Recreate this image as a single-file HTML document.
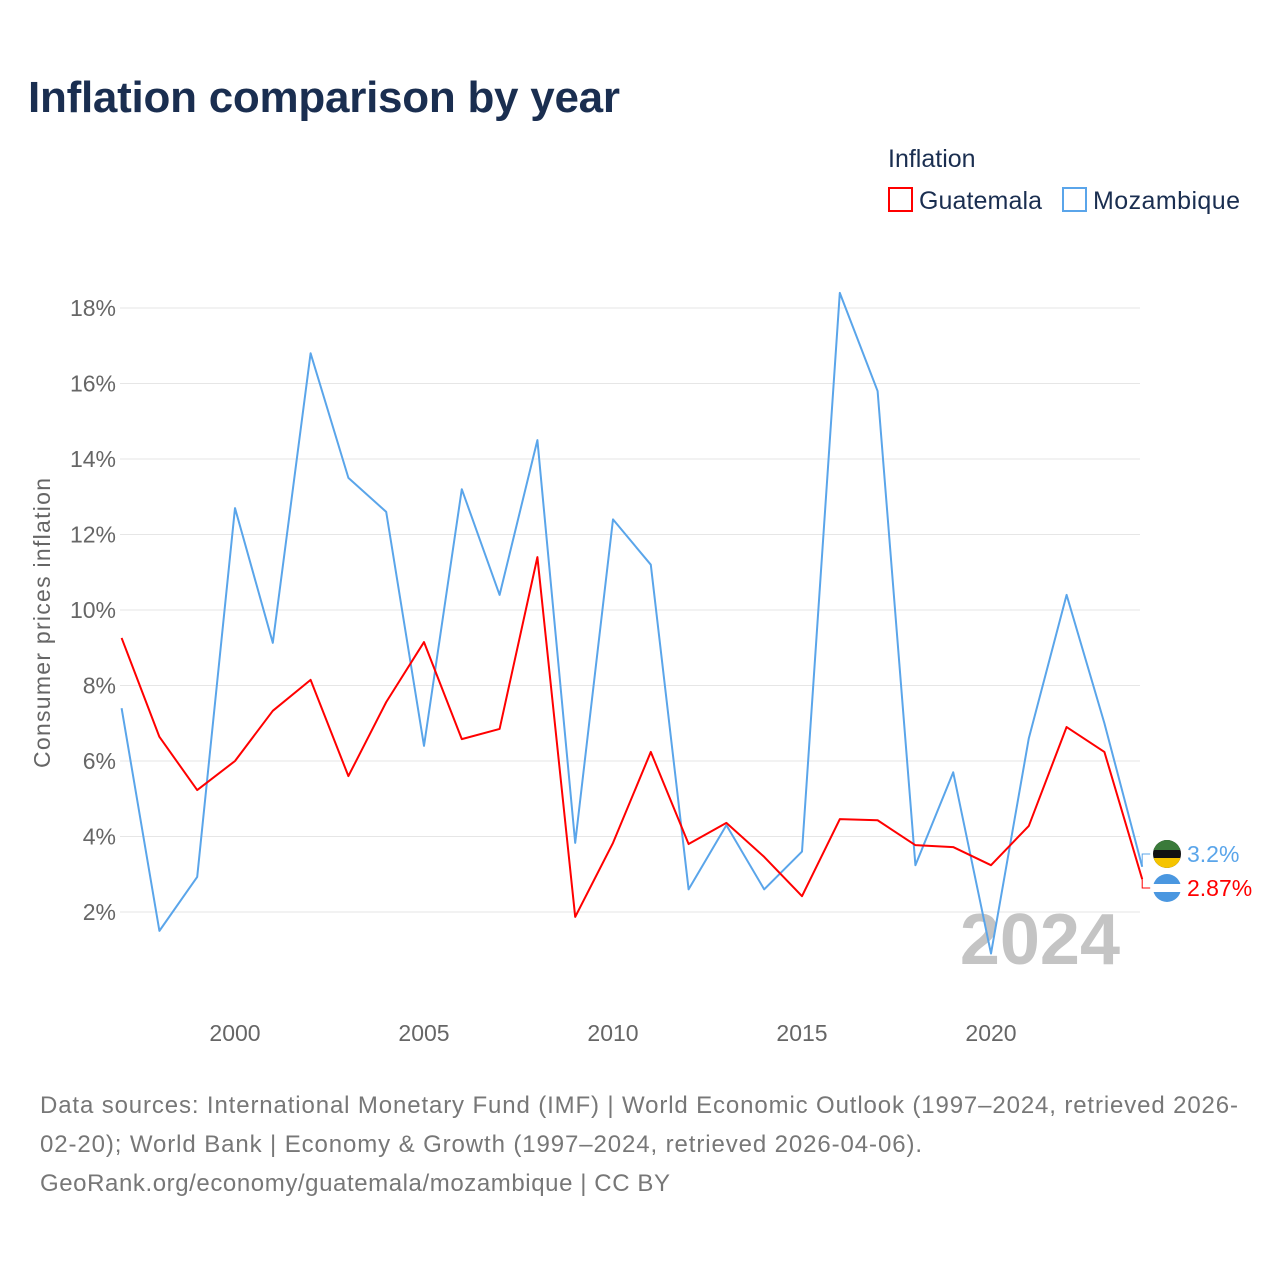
<!DOCTYPE html>
<html><head><meta charset="utf-8"><style>
body{margin:0;background:#fff;font-family:"Liberation Sans",sans-serif;}
svg text{font-family:"Liberation Sans",sans-serif;}
</style></head><body>
<svg id="c" width="1280" height="1280" xmlns="http://www.w3.org/2000/svg">
<defs>
<clipPath id="cm"><circle cx="1167" cy="854" r="14"/></clipPath>
<clipPath id="cg"><circle cx="1167" cy="888" r="14"/></clipPath>
</defs>
<rect width="1280" height="1280" fill="#fff"/>
<text x="28" y="112" font-size="44" font-weight="bold" fill="#1a2e50" textLength="592">Inflation comparison by year</text>
<text x="888" y="167" font-size="25" fill="#1a2e50">Inflation</text>
<g><rect x="889" y="188" width="23" height="23" fill="none" stroke="#f00" stroke-width="2"/><text x="919" y="209" font-size="25" fill="#1a2e50" textLength="123">Guatemala</text></g>
<g><rect x="1063" y="188" width="23" height="23" fill="none" stroke="#5aa5ea" stroke-width="2"/><text x="1093" y="209" font-size="25" fill="#1a2e50" textLength="147">Mozambique</text></g>
<text transform="translate(50,623) rotate(-90)" text-anchor="middle" font-size="23" fill="#666" textLength="290">Consumer prices inflation</text>
<g id="grid"></g><g id="xt"></g>
<text x="1120" y="964" text-anchor="end" font-size="72" font-weight="bold" fill="#c4c4c4">2024</text>
<g id="lines"></g>
<text x="40" y="1113" font-size="24" fill="#777" textLength="1198">Data sources: International Monetary Fund (IMF) | World Economic Outlook (1997–2024, retrieved 2026-</text>
<text x="40" y="1152" font-size="24" fill="#777" textLength="882">02-20); World Bank | Economy &amp; Growth (1997–2024, retrieved 2026-04-06).</text>
<text x="40" y="1191" font-size="24" fill="#777" textLength="630">GeoRank.org/economy/guatemala/mozambique | CC BY</text>
</svg>
<script>
const years=[1997,1998,1999,2000,2001,2002,2003,2004,2005,2006,2007,2008,2009,2010,2011,2012,2013,2014,2015,2016,2017,2018,2019,2020,2021,2022,2023,2024];
const guatemala=[9.26,6.64,5.23,6.0,7.33,8.15,5.6,7.56,9.15,6.58,6.85,11.4,1.87,3.83,6.24,3.8,4.36,3.46,2.42,4.46,4.43,3.77,3.72,3.24,4.28,6.9,6.24,2.87];
const mozambique=[7.4,1.5,2.93,12.7,9.13,16.8,13.5,12.6,6.4,13.2,10.4,14.5,3.83,12.4,11.2,2.6,4.3,2.6,3.6,18.4,15.8,3.24,5.7,0.9,6.6,10.4,7.0,3.2];
const yTicks=[2,4,6,8,10,12,14,16,18];
const xTicks=[2000,2005,2010,2015,2020];
const NS="http://www.w3.org/2000/svg";
const X=y=>235+(y-2000)*37.8, Y=v=>987.5-v*37.75;
const grid=document.getElementById('grid'),xt=document.getElementById('xt'),lines=document.getElementById('lines');
function mk(tag,attrs,parent){const e=document.createElementNS(NS,tag);for(const k in attrs)e.setAttribute(k,attrs[k]);parent.appendChild(e);return e;}
yTicks.forEach(t=>{
 const l=mk('line',{x1:120,x2:1140,y1:Y(t),y2:Y(t),stroke:'#e6e6e6','stroke-width':1},grid);
 
 
 const tx=mk('text',{x:116,y:Y(t)+8,'text-anchor':'end','font-size':23,fill:'#666'},grid);tx.textContent=t+'%';
 
 
});
xTicks.forEach(t=>{
 const tx=mk('text',{x:X(t),y:1041,'text-anchor':'middle','font-size':23,fill:'#666'},xt);tx.textContent=t;
 
 
});
function series(vals,color,name){
 const p=mk('polyline',{points:vals.map((v,i)=>X(years[i])+','+Y(v)).join(' '),fill:'none',stroke:color,'stroke-width':2,'stroke-linejoin':'round'},lines);
 
 
}
series(mozambique,'#5aa5ea','mozambique');
series(guatemala,'#f00','guatemala');
function endLabel(v,color,ly,name,flagColors,clip){
 const x=X(2024);
 mk('polyline',{points:`${x},${Y(v)} ${x},${ly} ${x+8},${ly}`,fill:'none',stroke:color,'stroke-width':1},lines);
 const g=mk('g',{'clip-path':'url(#'+clip+')'},lines);
 
 
 mk('rect',{x:1153,y:ly-14,width:28,height:28,fill:flagColors[1]},g);
 mk('rect',{x:1153,y:ly-14,width:28,height:10,fill:flagColors[0]},g);
 mk('rect',{x:1153,y:ly+4,width:28,height:10,fill:flagColors[2]},g);
 const t=mk('text',{x:1187,y:ly+8,'font-size':23,fill:color},lines);
 t.textContent=(v===2.87?'2.87':v)+'%';
 
 
}
endLabel(mozambique[27],'#5aa5ea',854,'mozambique',['#3a7a3a','#111','#f5c400'],'cm');
endLabel(guatemala[27],'#f00',888,'guatemala',['#4a97e0','#fff','#4a97e0'],'cg');
</script>
</body></html>
